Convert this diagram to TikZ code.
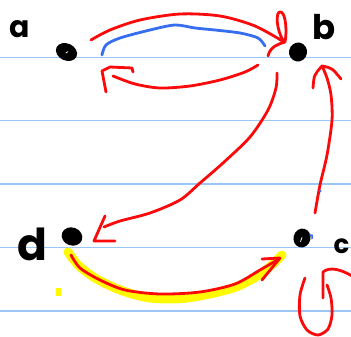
\documentclass[tikz,border=0pt]{standalone}
\usepackage{fontspec}
\setmainfont{Poppins}
\definecolor{rule}{RGB}{155,198,248}
\definecolor{ink}{RGB}{250,10,10}
\definecolor{pen}{RGB}{55,110,240}
\definecolor{marker}{RGB}{255,250,0}
\tikzset{
  rulel/.style={draw=rule, line width=1.8pt},
  stroke/.style={draw=ink, line width=2.8pt, line cap=round, line join=round},
  bluestroke/.style={draw=pen, line width=2.8pt, line cap=round, line join=round},
  hilite/.style={draw=marker, line width=9pt, line cap=round, line join=round},
  letter/.style={inner sep=0pt, font=\bfseries},
}
% a filled oval vertex: centre, half-width, half-height, tilt
\newcommand\vertexblob[4]{%
  \fill[black, rotate around={#4:(#1)}] (#1) ellipse [x radius=#2pt, y radius=#3pt];}
\begin{document}
\begin{tikzpicture}[x=1pt, y=-1pt]
\useasboundingbox (0,0) rectangle (351,337);
\fill[white] (0,0) rectangle (351,337);

% ruled paper
\foreach \yy in {57.5,120.5,184,247.5,311}
  \draw[rulel] (0,\yy) -- (351,\yy);

% vertices
\coordinate (A) at (66.5,52);
\coordinate (B) at (298,52);
\coordinate (C) at (302,238);
\coordinate (D) at (72,236.5);
\vertexblob{A}{11}{8.5}{-25}
\vertexblob{B}{9}{9.5}{-10}
\vertexblob{C}{8.5}{9.5}{-15}
\vertexblob{D}{10.5}{9}{-20}
\draw[white, line width=0.8pt, line cap=round] (66,53) -- (67.8,51.6);
\draw[white, line width=0.8pt, line cap=round] (300.5,241.5) -- (302,237.5);
\draw[pen, line width=1.6pt, line cap=round] (310,235) .. controls (312.5,235) .. (312,238.5);

% labels
\node[letter, font=\bfseries\fontsize{30}{30}\selectfont] (la) at (20,29) {a};
\node[letter, font=\bfseries\fontsize{34}{34}\selectfont] (lb) at (324,27) {b};
\node[letter, font=\bfseries\fontsize{26}{26}\selectfont] (lc) at (341.5,246.5) {c};
\node[letter, font=\bfseries\fontsize{44}{44}\selectfont] (ld) at (32,244) {d};

% highlighter under the d -> c edge
\draw[hilite] plot[smooth] coordinates {(68,252) (78,265) (95,278) (120,290) (150,298) (187,298) (233,288) (262,273) (282,255)};
\fill[marker] (56,288) rectangle (61,296);

% d -> c
\draw[stroke] plot[smooth] coordinates {(71,255) (80,268) (100,280) (125,290) (160,294) (200,292) (235,284) (260,270) (279,259)};
\draw[stroke] (262,259) -- (280,258) -- (262,280);

% a -> b (upper arc)
\draw[stroke] plot[smooth] coordinates {(91,40) (110,30) (140,20) (180,14) (220,16) (255,26) (284,42)};
\draw[stroke] (284,42) .. controls (276,30) and (275,10) .. (281,12) .. controls (286,14) and (287,32) .. (285,42)
              .. controls (278,44) and (270,47) .. (268,56);

% blue arc
\draw[bluestroke] plot[smooth] coordinates {(102,55) (106,45) (120,38) (150,30) (175,25) (195,28) (215,30) (240,33) (258,38) (265,46)};

% b -> a (lower arc)
\draw[stroke] plot[smooth] coordinates {(258,65) (245,72) (220,80) (190,86) (160,88) (135,84) (113,76)};
\draw[stroke] (133,72) -- (132,68) -- (110,67) -- (102,71) -- (106,92);

% b -> d
\draw[stroke] plot[smooth] coordinates {(277,73) (276,88) (268,110) (250,137) (223,163) (200,183) (180,200) (150,213) (120,221) (104,227)};
\draw[stroke] (105,216) -- (94,241) -- (115,241);

% c -> b
\draw[stroke] plot[smooth] coordinates {(315,213) (320,185) (327,155) (332,120) (331,95) (327,78) (322,66)};
\draw[stroke] (313,88) .. controls (314,75) .. (322,66) .. controls (332,68) .. (341,79);
\fill[pen] (320,191) circle (1.5pt);

% loop at c
\draw[stroke] plot[smooth] coordinates {(305,278) (300,295) (300,316) (307,330) (318,335) (328,329) (332,315) (331,298) (327,285)};
\draw[stroke] (323,298) -- (323,272) .. controls (330,266) and (342,270) .. (352,276);
\end{tikzpicture}
\end{document}
